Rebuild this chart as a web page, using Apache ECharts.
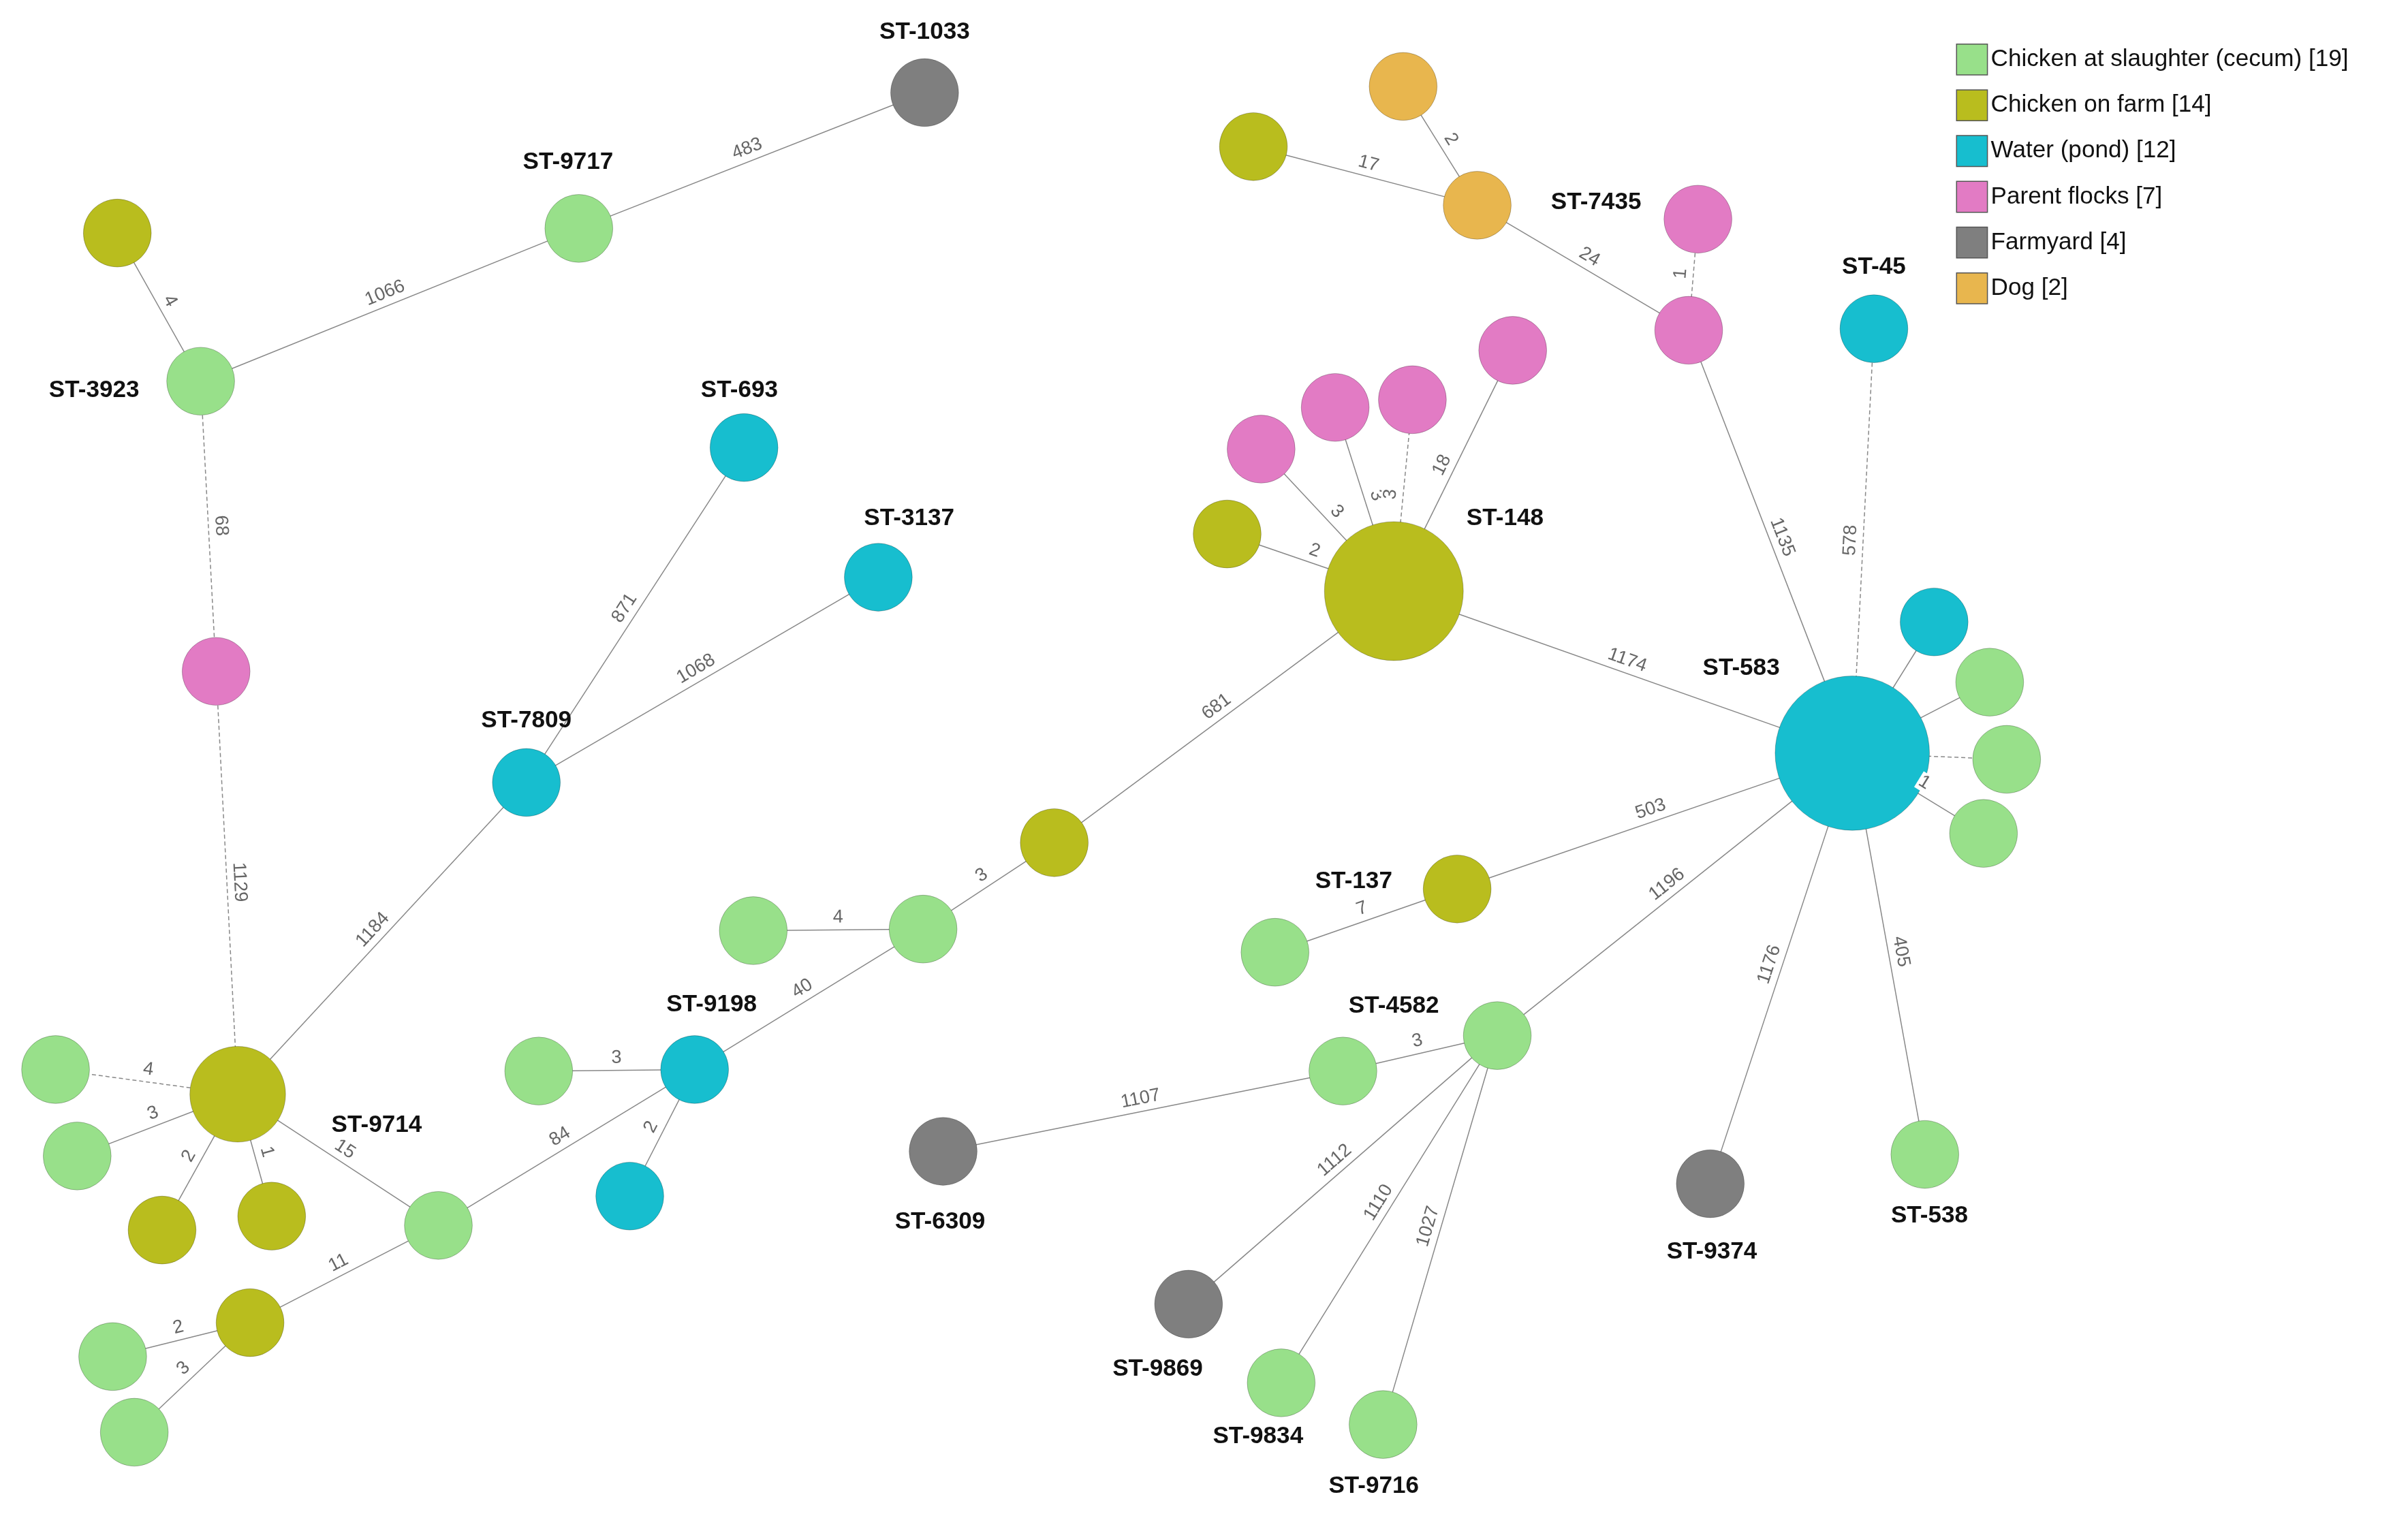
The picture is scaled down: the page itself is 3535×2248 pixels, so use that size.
<!DOCTYPE html>
<html>
<head>
<meta charset="utf-8">
<script src="https://cdn.jsdelivr.net/npm/echarts@6/dist/echarts.min.js"></script>
<style>html,body{margin:0;padding:0;background:#fff}#chart{width:3535px;height:2248px}</style>
</head>
<body>
<div id="chart"></div>
<script>
// scale from the 1560-wide layout to the real page
const S = 3535 / 1560;

const categories = ['Chicken at slaughter (cecum) [19]', 'Chicken on farm [14]', 'Water (pond) [12]', 'Parent flocks [7]', 'Farmyard [4]', 'Dog [2]'];
const catColors = ['#98e08a', '#b9bd1e', '#17becf', '#e27bc4', '#7f7f7f', '#e8b64e'];

// node: [id, x, y, category, radius]
const nodes = [
  ['n1', 599, 60, 4, 22], ['n2', 375, 148, 0, 22], ['n3', 76, 151, 1, 22], ['n4', 130, 247, 0, 22],
  ['n5', 140, 435, 3, 22], ['n6', 154, 709, 1, 31], ['n7', 341, 507, 2, 22], ['n8', 482, 290, 2, 22],
  ['n9', 569, 374, 2, 22], ['n10', 36, 693, 0, 22], ['n11', 50, 749, 0, 22], ['n12', 105, 797, 1, 22],
  ['n13', 176, 788, 1, 22], ['n14', 284, 794, 0, 22], ['n15', 162, 857, 1, 22], ['n16', 73, 879, 0, 22],
  ['n17', 87, 928, 0, 22], ['n18', 450, 693, 2, 22], ['n19', 349, 694, 0, 22], ['n20', 408, 775, 2, 22],
  ['n21', 598, 602, 0, 22], ['n22', 488, 603, 0, 22], ['n23', 683, 546, 1, 22], ['n24', 903, 383, 1, 45],
  ['n25', 795, 346, 1, 22], ['n26', 817, 291, 3, 22], ['n27', 865, 264, 3, 22], ['n28', 915, 259, 3, 22],
  ['n29', 980, 227, 3, 22], ['n30', 1200, 488, 2, 50], ['n31', 812, 95, 1, 22], ['n32', 909, 56, 5, 22],
  ['n33', 957, 133, 5, 22], ['n34', 1100, 142, 3, 22], ['n35', 1094, 214, 3, 22], ['n36', 1214, 213, 2, 22],
  ['n37', 1253, 403, 2, 22], ['n38', 1289, 442, 0, 22], ['n39', 1300, 492, 0, 22], ['n40', 1285, 540, 0, 22],
  ['n41', 944, 576, 1, 22], ['n42', 826, 617, 0, 22], ['n43', 970, 671, 0, 22], ['n44', 870, 694, 0, 22],
  ['n45', 611, 746, 4, 22], ['n46', 770, 845, 4, 22], ['n47', 830, 896, 0, 22], ['n48', 896, 923, 0, 22],
  ['n49', 1108, 767, 4, 22], ['n50', 1247, 748, 0, 22]
];

// label: [node id, text, dx, dy]
const nodeLabels = [
  ['n1', 'ST-1033', 0, -39], ['n2', 'ST-9717', -7, -43], ['n4', 'ST-3923', -69, 6], ['n7', 'ST-7809', 0, -40],
  ['n8', 'ST-693', -3, -37], ['n9', 'ST-3137', 20, -38], ['n6', 'ST-9714', 90, 20], ['n18', 'ST-9198', 11, -42],
  ['n24', 'ST-148', 72, -47], ['n30', 'ST-583', -72, -55], ['n34', 'ST-7435', -66, -11], ['n36', 'ST-45', 0, -40],
  ['n41', 'ST-137', -67, -5], ['n44', 'ST-4582', 33, -42], ['n45', 'ST-6309', -2, 46], ['n46', 'ST-9869', -20, 42],
  ['n47', 'ST-9834', -15, 35], ['n48', 'ST-9716', -6, 40], ['n49', 'ST-9374', 1, 44], ['n50', 'ST-538', 3, 40]
];

// edge: [source, target, distance, dashed]
const edges = [
  ['n1', 'n2', 483, 0], ['n2', 'n4', 1066, 0], ['n3', 'n4', 4, 0], ['n4', 'n5', 68, 1], ['n5', 'n6', 1129, 1],
  ['n6', 'n7', 1184, 0], ['n7', 'n8', 871, 0], ['n7', 'n9', 1068, 0], ['n6', 'n10', 4, 1], ['n6', 'n11', 3, 0],
  ['n6', 'n12', 2, 0], ['n6', 'n13', 1, 0], ['n6', 'n14', 15, 0], ['n14', 'n15', 11, 0], ['n15', 'n16', 2, 0],
  ['n15', 'n17', 3, 0], ['n14', 'n18', 84, 0], ['n18', 'n19', 3, 0], ['n18', 'n20', 2, 0], ['n18', 'n21', 40, 0],
  ['n21', 'n22', 4, 0], ['n21', 'n23', 3, 0], ['n23', 'n24', 681, 0], ['n24', 'n25', 2, 0], ['n24', 'n26', 3, 0],
  ['n24', 'n27', 3, 0], ['n24', 'n28', 3, 1], ['n24', 'n29', 18, 0], ['n24', 'n30', 1174, 0], ['n31', 'n33', 17, 0],
  ['n32', 'n33', 2, 0], ['n33', 'n35', 24, 0], ['n34', 'n35', 1, 1], ['n35', 'n30', 1135, 0], ['n36', 'n30', 578, 1],
  ['n30', 'n37', null, 0], ['n30', 'n38', null, 0], ['n30', 'n39', null, 1], ['n30', 'n40', 1, 0], ['n30', 'n41', 503, 0],
  ['n41', 'n42', 7, 0], ['n30', 'n43', 1196, 0], ['n43', 'n44', 3, 0], ['n44', 'n45', 1107, 0], ['n43', 'n46', 1112, 0],
  ['n43', 'n47', 1110, 0], ['n43', 'n48', 1027, 0], ['n30', 'n49', 1176, 0], ['n30', 'n50', 405, 0]
];

const labelMap = {};
nodeLabels.forEach(l => { labelMap[l[0]] = l; });

const graphNodes = nodes.map(n => {
  const l = labelMap[n[0]];
  return {
    id: n[0], name: n[0], value: [n[1], n[2]], category: n[3],
    symbolSize: n[4] * 2 * S,
    itemStyle: { color: catColors[n[3]], borderColor: 'rgba(0,0,0,0.25)', borderWidth: 1 },
    label: l ? {
      show: true, formatter: l[1], position: 'inside', offset: [l[2] * S, l[3] * S],
      fontSize: 15.5 * S, fontWeight: 'bold', color: '#111', fontFamily: 'Liberation Sans'
    } : { show: false }
  };
});

const graphLinks = edges.map(e => ({
  source: e[0], target: e[1],
  lineStyle: { color: '#888', width: 1.5, type: e[3] ? [6, 4] : 'solid', opacity: 1 },
  label: e[2] == null ? { show: false } : {
    show: true, formatter: String(e[2]), fontSize: 12 * S, color: '#666',
    fontFamily: 'Liberation Sans', position: 'middle', backgroundColor: '#fff', padding: [0, 2]
  }
}));

const myChart = echarts.init(document.getElementById('chart'));
myChart.setOption({
  animation: false,
  grid: { left: 0, right: 0, top: 0, bottom: 0 },
  xAxis: { type: 'value', min: 0, max: 1560, show: false },
  yAxis: { type: 'value', min: 0, max: 992, inverse: true, show: false },
  legend: {
    data: categories, orient: 'vertical', left: 1265 * S, top: 26 * S,
    icon: 'rect', itemWidth: 20 * S, itemHeight: 20 * S, itemGap: 9 * S,
    textStyle: { fontSize: 15.5 * S, color: '#111', fontFamily: 'Liberation Sans' },
    itemStyle: { borderColor: '#555', borderWidth: 1.5 }
  },
  series: [{
    type: 'graph', coordinateSystem: 'cartesian2d', layout: 'none',
    categories: categories.map((c, i) => ({ name: c, itemStyle: { color: catColors[i] } })),
    data: graphNodes, links: graphLinks, z: 2
  }]
});
</script>
</body>
</html>
